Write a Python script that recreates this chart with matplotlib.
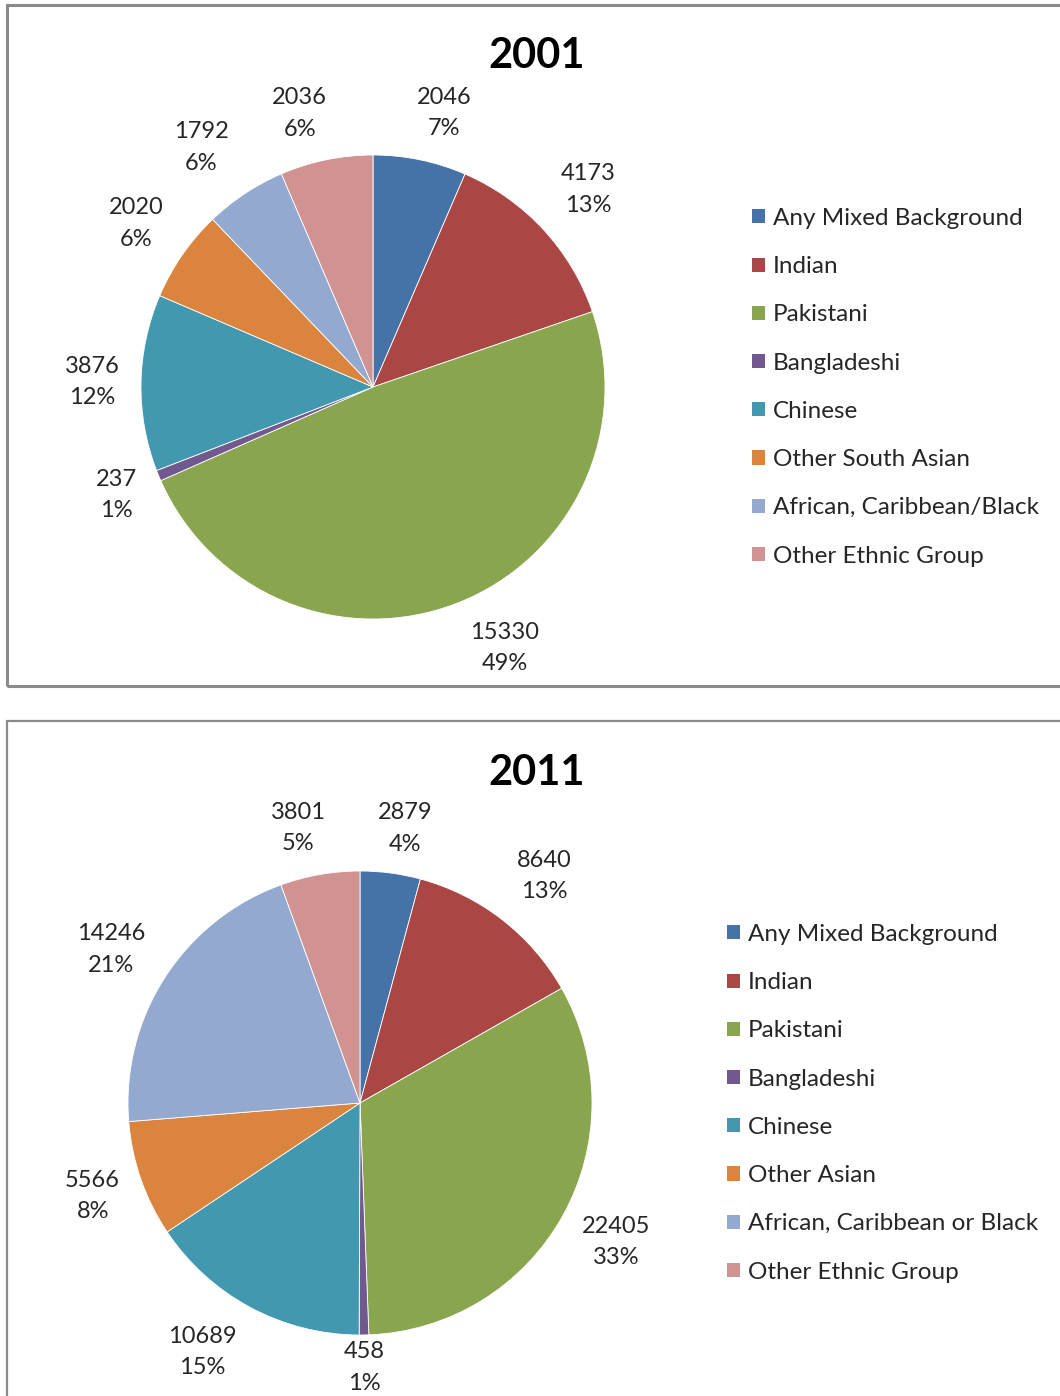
import matplotlib
matplotlib.use("Agg")
import matplotlib.pyplot as plt
from matplotlib.patches import Patch, Rectangle
import numpy as np

plt.rcParams['font.family'] = ['Lato', 'DejaVu Sans']

years = ["2001", "2011"]
categories_2001 = ["Any Mixed Background", "Indian", "Pakistani", "Bangladeshi",
                   "Chinese", "Other South Asian", "African, Caribbean/Black",
                   "Other Ethnic Group"]
categories_2011 = ["Any Mixed Background", "Indian", "Pakistani", "Bangladeshi",
                   "Chinese", "Other Asian", "African, Caribbean or Black",
                   "Other Ethnic Group"]
values_2001 = [2046, 4173, 15330, 237, 3876, 2020, 1792, 2036]
values_2011 = [2879, 8640, 22405, 458, 10689, 5566, 14246, 3801]
pct_2001 = ["7%", "13%", "49%", "1%", "12%", "6%", "6%", "6%"]
pct_2011 = ["4%", "13%", "33%", "1%", "15%", "8%", "21%", "5%"]

colors = ["#4572A7", "#AA4643", "#89A54E", "#71588F",
          "#4198AF", "#DB843D", "#93A9CF", "#D19392"]

W, H = 1060, 1396
fig = plt.figure(figsize=(W / 100, H / 100), dpi=100)


def fx(px):
    return px / W


def fy(py):
    return 1 - py / H


# panel frames
for (top, bottom, lw) in [(5, 686, 2.2), (721, 1420, 1.6)]:
    fig.patches.append(Rectangle((fx(7), fy(bottom)), fx(1100 - 7), (bottom - top) / H,
                                 transform=fig.transFigure, fill=False,
                                 edgecolor="#8a8a8a", linewidth=lw, clip_on=False))

# label placement style: (radial factor, angle offset in degrees)
panels = [
    dict(year=years[0], cats=categories_2001, vals=values_2001, pcts=pct_2001,
         cx=373, cy=387, r=232, title_y=56, leg_x=752, leg_y=208,
         ks=[1.22, 1.26, 1.26, 1.2, 1.21, 1.24, 1.27, 1.22],
         offs=[-2.9, -0.3, 5.4, 0.4, 0.0, 0.1, 2.1, 3.4]),
    dict(year=years[1], cats=categories_2011, vals=values_2011, pcts=pct_2011,
         cx=360, cy=1103, r=232, title_y=773, leg_x=727, leg_y=924,
         ks=[1.2, 1.26, 1.255, 1.14, 1.27, 1.22, 1.26, 1.215],
         offs=[-1.8, -1.3, 0.6, 0.0, -4.1, 0.0, 1.1, 2.7]),
]

for p in panels:
    r = p["r"]
    ax = fig.add_axes([fx(p["cx"] - r), fy(p["cy"] + r), 2 * r / W, 2 * r / H])
    wedges, _ = ax.pie(p["vals"], colors=colors, startangle=90, counterclock=False,
                       radius=1.0, wedgeprops=dict(linewidth=0.6, edgecolor="white"))
    ax.set_xlim(-1, 1)
    ax.set_ylim(-1, 1)
    ax.set_aspect("equal")
    ax.axis("off")
    for w, v, pc, k, off in zip(wedges, p["vals"], p["pcts"], p["ks"], p["offs"]):
        ang = np.deg2rad((w.theta1 + w.theta2) / 2 + off)
        ax.text(k * np.cos(ang), k * np.sin(ang), f"{v}\n{pc}", ha="center", va="center",
                fontsize=17, color="#262626", linespacing=1.62, clip_on=False)
    fig.text(fx(537), fy(p["title_y"]), p["year"], ha="center", va="center",
             fontsize=30, fontweight="bold", color="black")
    handles = [Patch(facecolor=c, edgecolor="none") for c in colors]
    fig.legend(handles, p["cats"], loc="upper left",
               bbox_to_anchor=(fx(p["leg_x"]), fy(p["leg_y"])),
               frameon=False, fontsize=17.5, handlelength=0.52, handleheight=0.52,
               handletextpad=0.33, labelspacing=1.12, borderpad=0, borderaxespad=0,
               labelcolor="#262626")

fig.savefig("out.png", dpi=100)
